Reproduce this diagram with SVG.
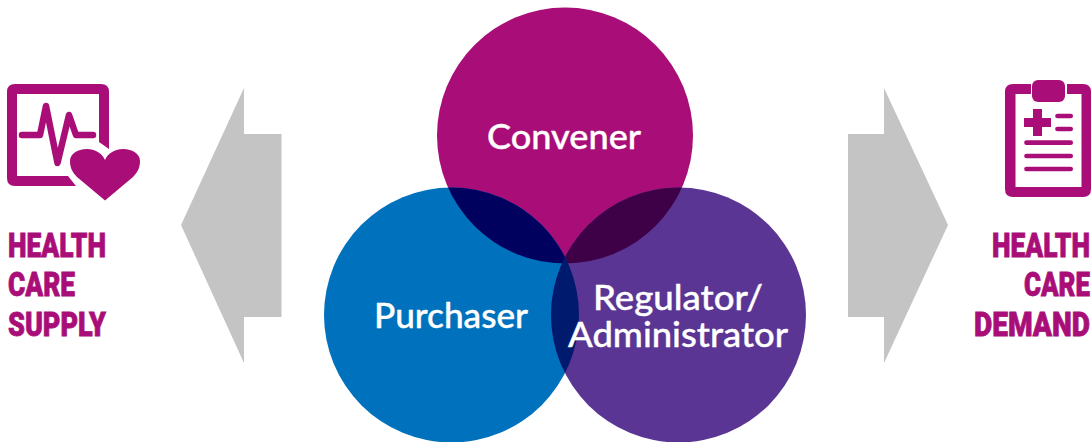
<svg xmlns="http://www.w3.org/2000/svg" width="1091" height="442" viewBox="0 0 1091 442">
<style>
.m{fill:#a90e78}
.arrow{fill:#c4c4c4}
.c{font-family:"Lato","Open Sans",sans-serif;font-weight:500;font-size:35.500px;fill:#fff;stroke:#fff;stroke-width:.4;text-anchor:middle}
.h{font-family:"Roboto",sans-serif;font-weight:900;font-size:34px;fill:#a90e78;stroke:#a90e78;stroke-width:.8}
.l{fill:none;stroke:#a90e78;stroke-linecap:round;stroke-linejoin:round}
</style>
<defs>
<clipPath id="cc"><circle cx="565" cy="135.500" r="128"/></clipPath>
<clipPath id="cp"><circle cx="451.500" cy="315" r="127.500"/></clipPath>
</defs>
<rect width="1091" height="442" fill="#fff"/>
<g id="connectors">
<polygon class="arrow" points="244,88 244,134 281.500,134 281.500,317 244,317 244,363 181,225"/>
<polygon class="arrow" points="884,88 884,134 848,134 848,317 884,317 884,363 948,225"/>
</g>
<g id="venn-shapes">
<circle id="shape-convener" cx="565" cy="135.500" r="128" fill="#a90e78"/>
<circle id="shape-purchaser" cx="451.500" cy="315" r="127.500" fill="#0071bc"/>
<circle id="shape-regulator" cx="678.500" cy="315" r="127.500" fill="#5a3594"/>
<g clip-path="url(#cc)"><circle cx="451.500" cy="315" r="127.500" fill="#00005f"/><circle cx="678.500" cy="315" r="127.500" fill="#3e0047"/></g>
<g clip-path="url(#cp)"><circle cx="678.500" cy="315" r="127.500" fill="#001a6e"/></g>
</g>
<g id="convener"><text class="c" x="564" y="149" textLength="154" lengthAdjust="spacingAndGlyphs">Convener</text></g>
<g id="purchaser"><text class="c" x="451" y="328" textLength="154" lengthAdjust="spacingAndGlyphs">Purchaser</text></g>
<g id="regulator"><text class="c" x="678" y="309.500" textLength="170" lengthAdjust="spacingAndGlyphs">Regulator/</text><text class="c" x="678" y="347" textLength="220" lengthAdjust="spacingAndGlyphs">Administrator</text></g>
<g id="supply">
<path class="m" d="M15 84H101Q109 84 109 92V149L99 142V94H17V176H68L76 186H15Q7 186 7 178V92Q7 84 15 84Z"/>
<path class="l" stroke-width="6.500" d="M22 135H40L46 106L57.500 163L69 115L76 135H93"/>
<path class="m" d="M105 200.500L77 177C72 172 70 167 70 161C70 154 77 149 87 149C95 149 102 153 105 160C108 153 115 149 123 149C133 149 140 154 140 161C140 167 138 172 133 177Z"/>
<text class="h" transform="translate(8 256.500) scale(.8 1)" textLength="122.500" lengthAdjust="spacingAndGlyphs">HEALTH</text>
<text class="h" transform="translate(8 296) scale(.8 1)" textLength="83.750" lengthAdjust="spacingAndGlyphs">CARE</text>
<text class="h" transform="translate(8 336) scale(.8 1)" textLength="122.500" lengthAdjust="spacingAndGlyphs">SUPPLY</text>
</g>
<g id="demand">
<path class="m" d="M1031 84V94H1015.500V187H1081.500V94H1067V84H1083Q1091 84 1091 92V189Q1091 197 1083 197H1013Q1005 197 1005 189V92Q1005 84 1013 84Z"/>
<rect class="m" x="1032" y="80" width="33" height="22" rx="6"/>
<path class="m" d="M1033 109H1042V118H1051V127H1042V136H1033V127H1024V118H1033Z"/>
<path class="l" stroke-width="4.700" d="M1057.500 116H1070.700M1057.500 129H1070.700M1026.500 142.700H1070.700M1026.500 156H1070.700M1026.500 169H1070.700"/>
<text class="h" transform="translate(992 256.500) scale(.8 1)" textLength="122.500" lengthAdjust="spacingAndGlyphs">HEALTH</text>
<text class="h" transform="translate(1024 296) scale(.8 1)" textLength="82.500" lengthAdjust="spacingAndGlyphs">CARE</text>
<text class="h" transform="translate(974 336) scale(.8 1)" textLength="145" lengthAdjust="spacingAndGlyphs">DEMAND</text>
</g>
</svg>
